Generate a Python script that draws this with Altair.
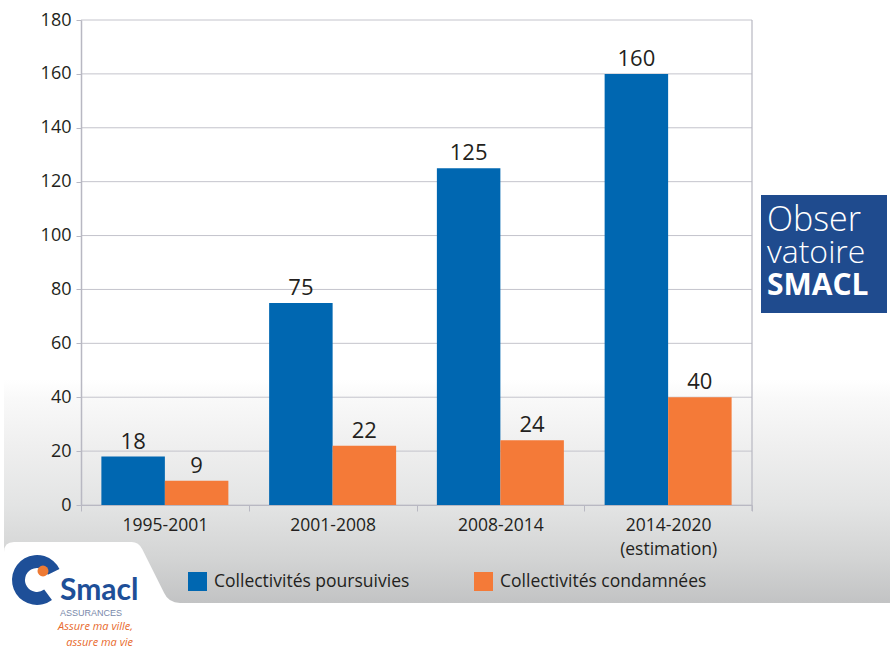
import altair as alt
import pandas as pd

# ---- data ----
periodes = ["1995-2001", "2001-2008", "2008-2014", "2014-2020|(estimation)"]
series = ["Collectivités poursuivies", "Collectivités condamnées"]
poursuivies = [18, 75, 125, 160]
condamnees = [9, 22, 24, 40]
y_ticks = [0, 20, 40, 60, 80, 100, 120, 140, 160, 180]
colors = ["#0067b1", "#f47a38"]

rows = []
for p, a, b in zip(periodes, poursuivies, condamnees):
    rows.append({"periode": p, "serie": series[0], "valeur": a})
    rows.append({"periode": p, "serie": series[1], "valeur": b})
df = pd.DataFrame(rows)

FONT = "Open Sans"
TXT = "#231f20"
GRID = "#c4c4cc"

y_axis = alt.Axis(values=y_ticks, grid=False, title=None, domainColor="#b8b8c2",
                  domainWidth=1.5, tickColor="#b8b8c2", tickSize=5, labelPadding=5,
                  labelFontSize=18, labelColor=TXT, labelFont=FONT, zindex=1)
y_enc = lambda f: alt.Y(f, scale=alt.Scale(domain=[0, 180], nice=False), axis=y_axis)

x_axis = alt.Axis(title=None, labelAngle=0, labelFontSize=17.5, labelColor=TXT, labelFont=FONT,
                  labelExpr="split(datum.label, '|')", labelLineHeight=24, labelPadding=5,
                  tickBand="extent", tickSize=6, tickColor="#b8b8c2", domainColor="#b8b8c2",
                  domainWidth=1.2, zindex=1)
x_enc = alt.X("periode:N", sort=periodes,
              scale=alt.Scale(domain=periodes, paddingInner=0, paddingOuter=0), axis=x_axis)
xoff_enc = alt.XOffset("serie:N", sort=series,
                       scale=alt.Scale(domain=series, paddingInner=0, paddingOuter=0.321))

one = alt.Data(values=[{"k": 1}])

# background gradient band
bg = alt.Chart(one).mark_rect(
    color=alt.LinearGradient(
        gradient="linear", x1=0, x2=0, y1=0, y2=1,
        stops=[alt.GradientStop(color="#ffffff", offset=0),
               alt.GradientStop(color="#f9f9f9", offset=0.08),
               alt.GradientStop(color="#efefef", offset=0.3),
               alt.GradientStop(color="#e3e4e4", offset=0.56),
               alt.GradientStop(color="#d3d4d4", offset=0.8),
               alt.GradientStop(color="#c2c3c4", offset=1)])
).encode(x=alt.value(-77), x2=alt.value(809), y=alt.value(360), y2=alt.value(583))

# white tab for the logo
tab_path = ("M -1 0.352 L -1 -0.227 Q -1 -0.341 -0.886 -0.341 L 0.45 -0.341 "
            "Q 0.53 -0.341 0.57 -0.26 L 0.82 0.24 Q 0.87 0.352 1 0.352 Z")
tab = alt.Chart(one).mark_point(shape=tab_path, size=30976, filled=True, color="white",
                                opacity=1, strokeWidth=0).encode(
    x=alt.value(11), y=alt.value(552))

# Smacl logo
swirl = alt.Chart(one).mark_arc(color="#1e4f98", radius=25, radius2=12,
                                theta=2.5, theta2=7.4).encode(
    x=alt.value(-44), y=alt.value(560))
dot = alt.Chart(one).mark_point(shape="circle", size=120, filled=True, color="#ee7a34",
                                opacity=1).encode(x=alt.value(-38), y=alt.value(551))
smacl = alt.Chart(one).mark_text(text="Smacl", font="Lato", fontWeight="bold",
                                 fontSize=30, color="#1e4f98", align="left",
                                 baseline="alphabetic").encode(
    x=alt.value(-21), y=alt.value(580))
assur = alt.Chart(one).mark_text(text="ASSURANCES", font="Liberation Sans", fontSize=9,
                                 color="#7888aa", align="left", baseline="middle").encode(
    x=alt.value(-21), y=alt.value(593))
slogan1 = alt.Chart(one).mark_text(text="Assure ma ville,", font=FONT, fontStyle="italic",
                                   fontSize=11, color="#e8692c", align="right",
                                   baseline="middle").encode(
    x=alt.value(52), y=alt.value(607))
slogan2 = alt.Chart(one).mark_text(text="assure ma vie", font=FONT, fontStyle="italic",
                                   fontSize=11, color="#e8692c", align="right",
                                   baseline="middle").encode(
    x=alt.value(52), y=alt.value(623))

# Observatoire logo
obs_box = alt.Chart(one).mark_rect(color="#1f4b8e").encode(
    x=alt.value(680), x2=alt.value(806), y=alt.value(175), y2=alt.value(293))
obs1 = alt.Chart(one).mark_text(text="Obser", font=FONT, fontWeight=300, fontSize=34,
                                color="white", align="left", baseline="alphabetic").encode(
    x=alt.value(686), y=alt.value(211))
obs2 = alt.Chart(one).mark_text(text="vatoire", font=FONT, fontWeight=300, fontSize=32,
                                color="white", align="left", baseline="alphabetic").encode(
    x=alt.value(686), y=alt.value(243))
obs3 = alt.Chart(one).mark_text(text="SMACL", font=FONT, fontWeight="bold", fontSize=30,
                                color="white", align="left", baseline="alphabetic").encode(
    x=alt.value(686), y=alt.value(275))

# gridlines
grid = alt.Chart(pd.DataFrame({"v": y_ticks})).mark_rule(color=GRID, strokeWidth=1).encode(
    y=y_enc("v:Q"))
right_border = alt.Chart(one).mark_rule(color="#b8b8c2", strokeWidth=1.2).encode(
    x=alt.value(671), y=alt.value(0), y2=alt.value(491))

base = alt.Chart(df)
bars = base.mark_bar().encode(
    x=x_enc, xOffset=xoff_enc, y=y_enc("valeur:Q"),
    color=alt.Color("serie:N", sort=series,
                    scale=alt.Scale(domain=series, range=colors),
                    legend=alt.Legend(title=None, orient="none", legendX=107, legendY=552,
                                      direction="horizontal", symbolType="square",
                                      symbolSize=361, symbolStrokeWidth=0, labelFontSize=17.5,
                                      labelFont=FONT, labelColor=TXT, labelOffset=7,
                                      labelLimit=0, columnPadding=64, padding=0,
                                      symbolOpacity=1)))
labels = base.mark_text(dy=-8, baseline="alphabetic", fontSize=22, font=FONT,
                        color=TXT).encode(
    x=x_enc, xOffset=xoff_enc, y=y_enc("valeur:Q"), text="valeur:Q")

chart = alt.layer(
    bg, tab, swirl, dot, smacl, assur, slogan1, slogan2, obs_box, obs1, obs2, obs3,
    grid, right_border, bars, labels
).properties(
    width=671, height=485,
    autosize=alt.AutoSizeParams(type="none"),
    padding={"left": 81, "top": 20, "right": 138, "bottom": 147},
    background="white"
).configure_view(stroke=None)

chart.save("out.html", embed_options={"renderer": "svg", "actions": False})
